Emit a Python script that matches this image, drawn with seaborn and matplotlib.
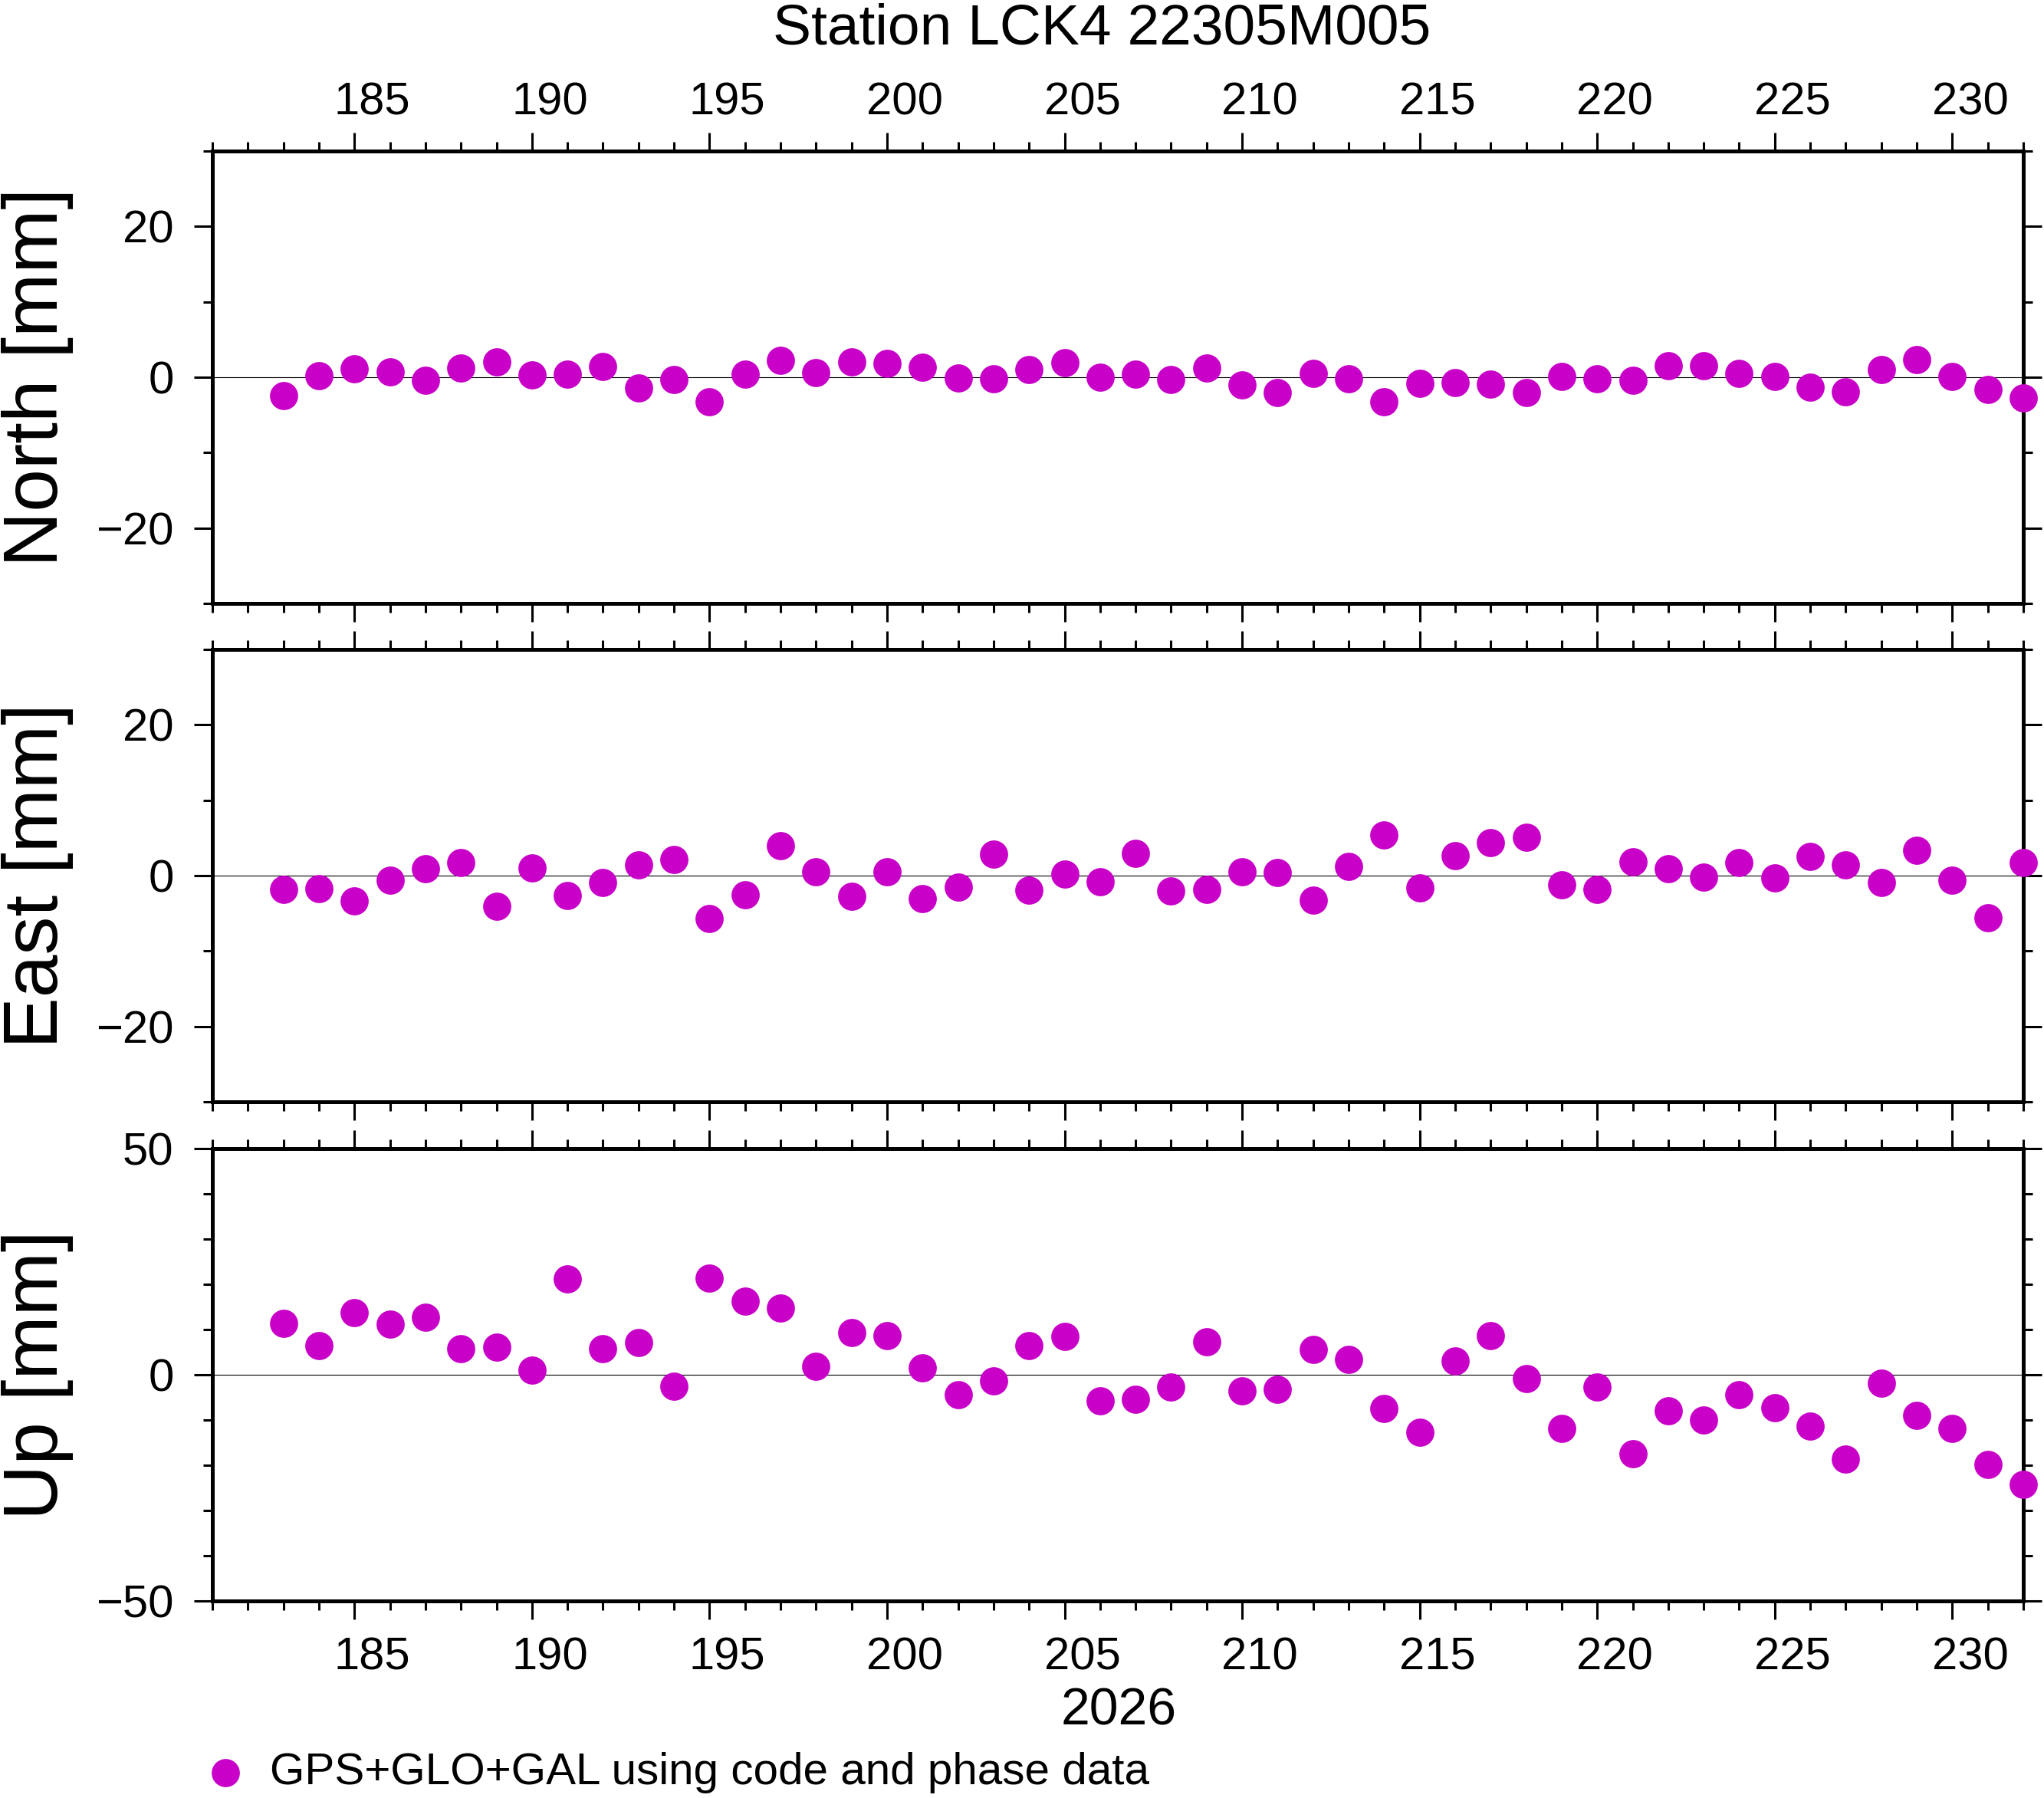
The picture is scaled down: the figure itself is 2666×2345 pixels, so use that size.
import seaborn as sns
import matplotlib.pyplot as plt
from matplotlib.ticker import MultipleLocator

# daily solutions, day of year 2026
days = list(range(183, 233))

north = [-2.44, 0.20, 1.12, 0.71, -0.41, 1.22, 2.03, 0.31, 0.41, 1.42,
         -1.42, -0.31, -3.25, 0.41, 2.24, 0.61, 2.03, 1.83, 1.32, -0.10,
         -0.20, 1.02, 1.93, 0.00, 0.40,
         -0.31, 1.22, -1.02, -2.03, 0.51, -0.20, -3.25, -0.81, -0.71, -0.92,
         -2.03, 0.10, -0.20, -0.41, 1.53, 1.53, 0.51, 0.10, -1.32, -1.93,
         1.02, 2.34, 0.10, -1.63, -2.75]

east = [-1.80, -1.73, -3.36, -0.61, 0.92, 1.73, -4.07, 1.02, -2.64, -0.92,
        1.42, 2.14, -5.69, -2.54, 3.98, 0.51, -2.75, 0.51, -3.05, -1.53,
        2.85, -1.93, 0.20, -0.81, 2.96,
        -2.03, -1.83, 0.51, 0.41, -3.25, 1.22, 5.39, -1.63, 2.64, 4.37,
        5.08, -1.22, -1.83, 1.83, 0.92, -0.20, 1.73, -0.31, 2.54, 1.42,
        -0.92, 3.36, -0.61, -5.59, 1.73]

up = [11.41, 6.44, 13.79, 11.24, 12.77, 5.76, 6.10, 1.07, 21.24, 5.76,
      7.18, -2.54, 21.41, 16.33, 14.80, 1.92, 9.32, 8.64, 1.53, -4.41,
      -1.36, 6.44, 8.47, -5.76, -5.42,
      -2.66, 7.29, -3.56, -3.22, 5.59, 3.39, -7.46, -12.71, 3.05, 8.64,
      -0.85, -11.86, -2.71, -17.46, -7.97, -10.00, -4.41, -7.29, -11.36, -18.64,
      -1.86, -8.98, -11.86, -19.83, -24.24]

panel_names = ['North [mm]', 'East [mm]', 'Up [mm]']
y_limits = [30, 30, 50]
y_major = [20, 20, 50]
day_labels = [185, 190, 195, 200, 205, 210, 215, 220, 225, 230]
title = 'Station LCK4 22305M005'
year_label = '2026'
legend_label = 'GPS+GLO+GAL using code and phase data'

sns.set_style('ticks')
plt.rcParams['font.family'] = ['Liberation Sans', 'DejaVu Sans']
plt.rcParams['text.color'] = 'black'
plt.rcParams['xtick.color'] = 'black'
plt.rcParams['ytick.color'] = 'black'
plt.rcParams['axes.labelcolor'] = 'black'

W, H = 2666, 2345
dot = '#c800c8'

fig = plt.figure(figsize=(W / 100, H / 100), dpi=100)

# panel frames in pixels (top, bottom)
frames = [(197, 787), (847, 1437), (1498, 2088)]
left, right = 277, 2639

axes = []
for (top, bot) in frames:
    ax = fig.add_axes([left / W, 1 - bot / H, (right - left) / W, (bot - top) / H])
    axes.append(ax)

for ax, vals, name, lim, major, (top, bot) in zip(axes, [north, east, up], panel_names,
                                                 y_limits, y_major, frames):
    ax.axhline(0, color='black', lw=0.8, zorder=1)
    sns.scatterplot(x=days, y=vals, ax=ax, color=dot, s=700, linewidth=0,
                    clip_on=False, zorder=3, legend=False)
    ax.set_xlim(181, 232)
    ax.set_ylim(-lim, lim)
    ax.set_xlabel('')
    ax.set_ylabel('')
    ax.xaxis.set_major_locator(MultipleLocator(5))
    ax.xaxis.set_minor_locator(MultipleLocator(1))
    ax.yaxis.set_major_locator(MultipleLocator(major))
    ax.yaxis.set_minor_locator(MultipleLocator(10))
    ax.tick_params(which='both', direction='out', top=True, bottom=True, left=True, right=True,
                   labelbottom=False, labeltop=False, labelleft=True, labelright=False,
                   width=2.2, color='black', labelcolor='black', labelsize=43, pad=19)
    ax.tick_params(which='major', length=17.3)
    ax.tick_params(which='minor', length=8.6)
    for sp in ax.spines.values():
        sp.set_linewidth(3.6)
        sp.set_color('black')
    fig.text(75 / W, 1 - (top + bot) / 2 / H, name, rotation=90, rotation_mode='anchor',
             ha='center', va='baseline', fontsize=72, color='black')

# day labels sit in the middle of each day interval
for d in day_labels:
    axes[0].text(d + 0.5, 1 + 47 / 590, str(d), transform=axes[0].get_xaxis_transform(),
                 ha='center', va='baseline', fontsize=43, color='black')
    axes[2].text(d + 0.5, -90 / 590, str(d), transform=axes[2].get_xaxis_transform(),
                 ha='center', va='baseline', fontsize=43, color='black')

fig.text(1437 / W, 1 - 57 / H, title, ha='center', va='baseline', fontsize=54, color='black')
fig.text(1459 / W, 1 - 2250 / H, year_label, ha='center', va='baseline', fontsize=49,
         color='black')

leg = fig.legend(handles=[axes[2].collections[0]], labels=[legend_label], loc='center left',
                 bbox_to_anchor=(265 / W, 1 - 2312 / H), frameon=False, fontsize=42,
                 handlelength=1.0, handletextpad=0.5, borderpad=0, borderaxespad=0)
for t in leg.get_texts():
    t.set_color('black')

fig.savefig('out.png', dpi=100)
